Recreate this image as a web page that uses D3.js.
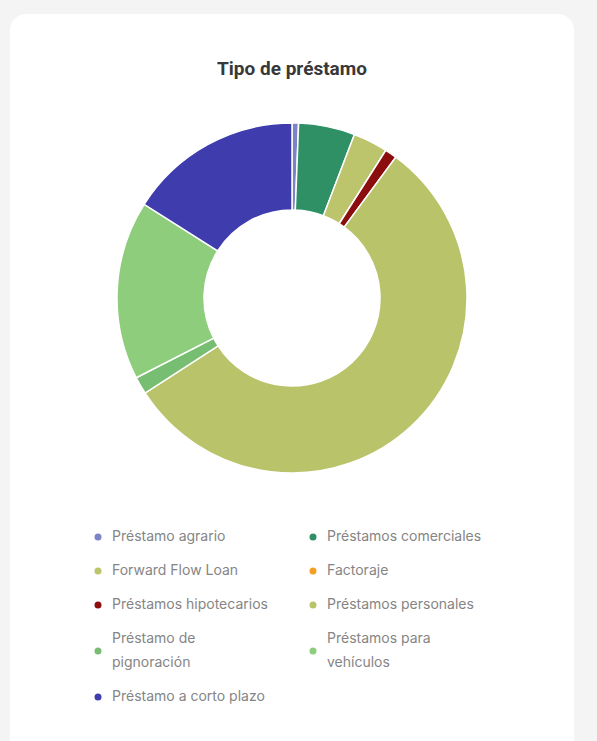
<html>
<head>
<meta charset="utf-8">
<title>Tipo de préstamo</title>
<script src="https://d3js.org/d3.v7.min.js"></script>
<style>
  body { margin: 0; background: #f4f4f4; }
</style>
</head>
<body>
<script>
var width = 597
var height = 741

// data (share of loans, %)
var categories = ["Préstamo agrario", "Préstamos comerciales", "Forward Flow Loan", "Factoraje",
                  "Préstamos hipotecarios", "Préstamos personales", "Préstamo de pignoración",
                  "Préstamos para vehículos", "Préstamo a corto plazo"]
var values = [0.6, 5.2, 3.2, 0, 1.1, 55.7, 1.6, 16.5, 16.0]
var colors = ["#7c84c6", "#2f9066", "#bcc46c", "#f2a024", "#8c0d0d", "#b9c36a", "#77bd72", "#8ecd7b", "#3f3dae"]

var svg = d3.select("body").append("svg")
  .attr("width", width)
  .attr("height", height)

// card
svg.append("rect")
  .attr("x", 10).attr("y", 14)
  .attr("width", 564).attr("height", 760)
  .attr("rx", 16)
  .attr("fill", "#ffffff")

svg.append("text")
  .attr("x", 292).attr("y", 75)
  .attr("text-anchor", "middle")
  .style("font-family", "Roboto, sans-serif")
  .style("font-weight", "bold")
  .style("font-size", "19px")
  .attr("fill", "#383838")
  .text("Tipo de préstamo")

var data = categories.map(function(c, i) { return {name: c, value: values[i], color: colors[i]} })

var pie = d3.pie().sort(null).value(d => d.value)
var arc = d3.arc().innerRadius(88).outerRadius(175)

svg.append("g")
  .attr("transform", "translate(292,298)")
  .selectAll("path")
  .data(pie(data))
  .enter()
  .append("path")
    .attr("d", arc)
    .attr("fill", d => d.data.color)
    .attr("stroke", "#ffffff")
    .attr("stroke-width", 1.5)

// legend, two columns
var colX = [98, 313]
var maxW = 159
var lineH = 24
var legend = svg.append("g")
  .style("font-family", "Inter, sans-serif")
  .style("font-size", "14px")

var items = legend.selectAll("g")
  .data(data)
  .enter()
  .append("g")

items.each(function(d) {
  var g = d3.select(this)
  var t = g.append("text").attr("fill", "#858585").attr("x", 14).attr("dy", "0.35em")
  var words = d.name.split(" ")
  var lines = [], cur = []
  words.forEach(function(w) {
    t.text(cur.concat(w).join(" "))
    if (cur.length && t.node().getComputedTextLength() > maxW) { lines.push(cur.join(" ")); cur = [w] }
    else cur.push(w)
  })
  lines.push(cur.join(" "))
  t.text(null)
  lines.forEach(function(l, k) {
    t.append("tspan").attr("x", 14)
      .attr("y", (k - (lines.length - 1) / 2) * lineH)
      .attr("dy", "0.35em")
      .text(l)
  })
  d.lines = lines.length
  g.append("circle").attr("r", 3.5).attr("cx", 0).attr("cy", 1).attr("fill", d.color)
})

// place rows
var y = 536, prevH = null
for (var r = 0; r < Math.ceil(data.length / 2); r++) {
  var row = data.slice(r * 2, r * 2 + 2)
  var h = 34 + (d3.max(row, d => d.lines) - 1) * lineH
  if (prevH !== null) y += (prevH + h) / 2
  row.forEach(function(d, c) { d.x = colX[c]; d.y = y })
  prevH = h
}
items.attr("transform", d => "translate(" + d.x + "," + d.y + ")")
</script>
</body>
</html>
